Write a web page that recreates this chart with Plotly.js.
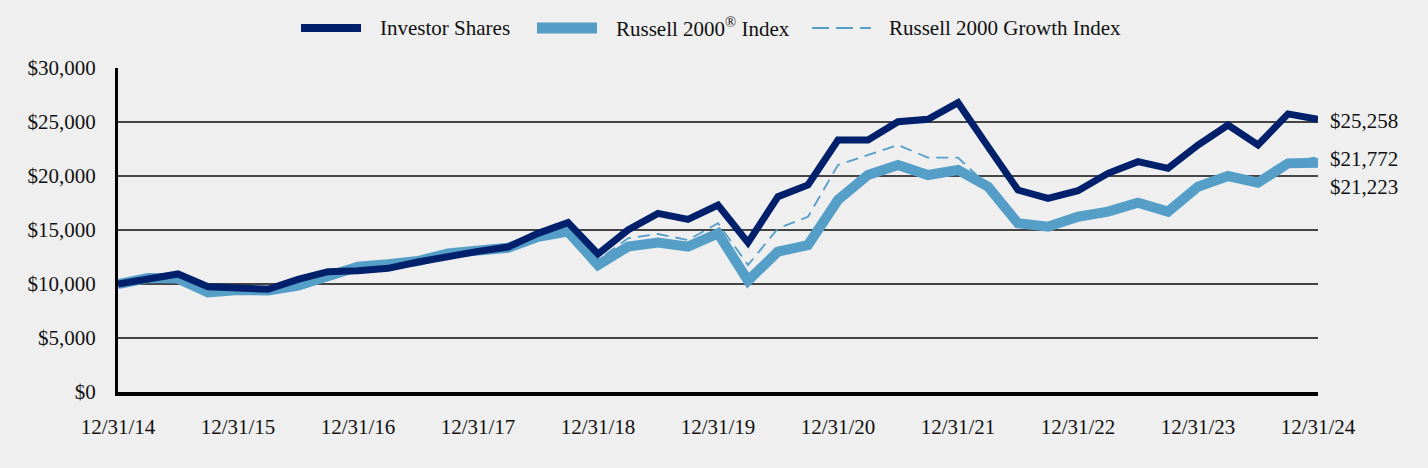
<!DOCTYPE html>
<html>
<head>
<meta charset="utf-8">
<script src="https://cdn.plot.ly/plotly-3.0.1.min.js"></script>
<style>
  html, body { margin: 0; padding: 0; background: #efefef; }
  #chart { width: 1428px; height: 468px; }
</style>
</head>
<body>
<div id="chart"></div>
<script>
const dates = [
  "12/31/14","3/31/15","6/30/15","9/30/15","12/31/15",
  "3/31/16","6/30/16","9/30/16","12/31/16",
  "3/31/17","6/30/17","9/30/17","12/31/17",
  "3/31/18","6/30/18","9/30/18","12/31/18",
  "3/31/19","6/30/19","9/30/19","12/31/19",
  "3/31/20","6/30/20","9/30/20","12/31/20",
  "3/31/21","6/30/21","9/30/21","12/31/21",
  "3/31/22","6/30/22","9/30/22","12/31/22",
  "3/31/23","6/30/23","9/30/23","12/31/23",
  "3/31/24","6/30/24","9/30/24","12/31/24"
];
const tickLabels = ["12/31/14","12/31/15","12/31/16","12/31/17","12/31/18","12/31/19","12/31/20","12/31/21","12/31/22","12/31/23","12/31/24"];

const investorShares = [10000,10430,10930,9750,9630,9510,10430,11140,11230,11450,12040,12590,13020,13420,14690,15680,12780,15000,16540,15990,17310,13830,18090,19170,23330,23330,25030,25250,26790,22720,18700,17930,18640,20250,21330,20710,22870,24720,22870,25750,25258];
const russell2000 = [10000,10550,10500,9230,9450,9400,9850,10680,11600,11820,12130,12840,13210,13350,14380,14850,11760,13460,13830,13460,14690,10310,13000,13610,17780,20090,21020,20090,20560,19010,15620,15310,16230,16700,17530,16700,19010,20000,19380,21170,21223];
const russell2000Growth = [10000,10500,10450,9300,9600,9400,9800,10600,11300,11550,12100,12800,13300,13500,14500,15100,12200,14230,14630,14070,15620,11760,15150,16230,21020,21940,22870,21700,21700,19100,15700,15250,16000,16600,17400,16600,18800,19900,19300,21200,21772];

const seriesNames = ["Investor Shares", "Russell 2000<sup>®</sup> Index", "Russell 2000 Growth Index"];
const DARK = "#00206b";
const LIGHT = "#559ec8";
const FONT = "Liberation Serif, Times New Roman, serif";
const FS = 21;

const traces = [
  {x: dates, y: russell2000Growth, type: "scatter", mode: "lines", name: seriesNames[2],
   line: {color: LIGHT, width: 1.8, dash: "12px,7px"}, hoverinfo: "skip"},
  {x: dates, y: russell2000, type: "scatter", mode: "lines", name: seriesNames[1],
   line: {color: LIGHT, width: 10}, hoverinfo: "skip"},
  {x: dates, y: investorShares, type: "scatter", mode: "lines", name: seriesNames[0],
   line: {color: DARK, width: 7}, hoverinfo: "skip"}
];

const L = 118, R = 110, T = 68, B = 76, W = 1428, H = 468;
const pw = W - L - R, ph = H - T - B;
const px = v => (v - L) / pw;
const py = v => (H - B - v) / ph;

const legendY = 28;
const legendItems = [
  {x0: 301, x1: 361, tx: 378, text: seriesNames[0], color: DARK, width: 8, dash: "solid"},
  {x0: 537, x1: 597, tx: 614, text: seriesNames[1], color: LIGHT, width: 11, dash: "solid"},
  {x0: 812, x1: 871, tx: 887, text: seriesNames[2], color: LIGHT, width: 2, dash: "17px,7px"}
];

const shapes = legendItems.map(it => ({
  type: "line", xref: "paper", yref: "paper",
  x0: px(it.x0), x1: px(it.x1), y0: py(legendY), y1: py(legendY),
  line: {color: it.color, width: it.width, dash: it.dash}
}));

const annotations = legendItems.map(it => ({
  xref: "paper", yref: "paper", x: px(it.tx), y: py(legendY),
  xanchor: "left", yanchor: "middle", showarrow: false, text: it.text,
  font: {family: FONT, size: FS, color: "#111"}
}));

const last = dates.length - 1;
const fmt = v => "$" + v.toLocaleString("en-US");
const endLabels = [
  {v: investorShares[last], shift: -2},
  {v: russell2000Growth[last], shift: -2},
  {v: russell2000[last], shift: -24}
];
endLabels.forEach(e => annotations.push({
  xref: "x", yref: "y", x: dates[last], y: e.v, xanchor: "left", yanchor: "middle",
  xshift: 10, yshift: e.shift, showarrow: false, text: fmt(e.v),
  font: {family: FONT, size: FS, color: "#111"}
}));

const layout = {
  width: W, height: H,
  margin: {l: L, r: R, t: T, b: B, pad: 0},
  paper_bgcolor: "#efefef",
  plot_bgcolor: "#efefef",
  showlegend: false,
  font: {family: FONT, size: FS, color: "#111"},
  xaxis: {
    type: "category",
    range: [0, last],
    tickmode: "array",
    tickvals: tickLabels,
    ticktext: tickLabels,
    showgrid: false,
    zeroline: false,
    showline: true,
    linecolor: "#000",
    linewidth: 4,
    ticks: "outside",
    ticklen: 13,
    tickcolor: "rgba(0,0,0,0)",
    tickfont: {family: FONT, size: FS, color: "#111"},
    fixedrange: true
  },
  yaxis: {
    range: [0, 30000],
    dtick: 5000,
    tick0: 0,
    tickprefix: "$",
    tickformat: ",d",
    showgrid: true,
    gridcolor: "#444",
    gridwidth: 1.3,
    zeroline: false,
    showline: true,
    linecolor: "#000",
    linewidth: 3,
    ticks: "outside",
    ticklen: 15,
    tickcolor: "rgba(0,0,0,0)",
    tickfont: {family: FONT, size: FS, color: "#111"},
    fixedrange: true
  },
  shapes: shapes,
  annotations: annotations
};

Plotly.newPlot("chart", traces, layout, {displayModeBar: false, staticPlot: true});
</script>
</body>
</html>
